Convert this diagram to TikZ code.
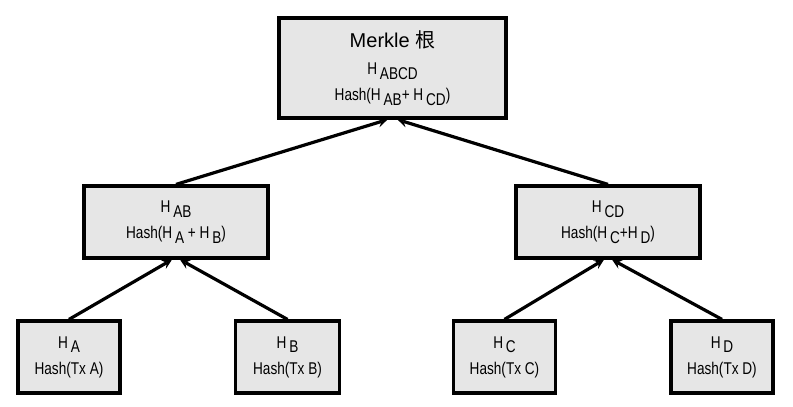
\documentclass[tikz,border=0pt]{standalone}
\usepackage{fontspec}
\setmainfont{Liberation Sans}[FakeStretch=0.8]
\newfontfamily\titlefont{Liberation Sans}
\newfontfamily\cjk{Noto Sans CJK SC}
\usepackage{tikz}
\usetikzlibrary{arrows}
\definecolor{boxgray}{HTML}{E6E6E6}
\newcommand\hs[1]{\,\raisebox{-0.5ex}{#1}}

\begin{document}
\begin{tikzpicture}[x=1pt, y=-1pt, >=stealth,
    hashbox/.style={shape=rectangle, draw=black, fill=boxgray, line width=3.2pt,
        align=center, font=\fontsize{17}{26}\selectfont, inner sep=0pt},
    leaf/.style={hashbox, minimum width=102, minimum height=72},
    mid/.style={hashbox, minimum width=184, minimum height=72},
    link/.style={line width=3.2pt}]
        \useasboundingbox (0,0) rectangle (793,407);
        \node[hashbox, minimum width=227, minimum height=100] (R) at (392.5,68)
            {{\titlefont\fontsize{20}{24}\selectfont Merkle {\cjk 根}}\\[1pt] H\hs{ABCD}\\ Hash(H\hs{AB}+ H\hs{CD})};
        \node[mid] (AB) at (176,222) {H\hs{AB}\\ Hash(H\hs{A} + H\hs{B})};
        \node[mid] (CD) at (608,222) {H\hs{CD}\\ Hash(H\hs{C}+H\hs{D})};
        \node[leaf] (A) at (69,357) {H\hs{A}\\ Hash(Tx A)};
        \node[leaf, minimum width=104] (B) at (287.5,357) {H\hs{B}\\ Hash(Tx B)};
        \node[leaf] (C) at (504.5,357) {H\hs{C}\\ Hash(Tx C)};
        \node[leaf] (D) at (722,357) {H\hs{D}\\ Hash(Tx D)};
    
        \path [->, link] (AB.north) edge ([xshift=-5pt]R.south);
        \path [->, link] (CD.north) edge ([xshift=5pt]R.south);
        \path [->, link] (A.north) edge ([xshift=-4pt]AB.south);
        \path [->, link] (B.north) edge ([xshift=4pt]AB.south);
        \path [->, link] (C.north) edge ([xshift=-4pt]CD.south);
        \path [->, link] (D.north) edge ([xshift=4pt]CD.south);
    \end{tikzpicture}
\end{document}
